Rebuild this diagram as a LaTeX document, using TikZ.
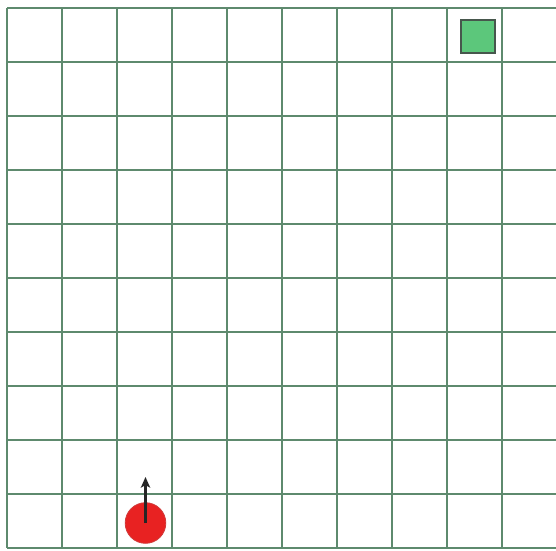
\documentclass[tikz,border=0pt]{standalone}
\usetikzlibrary{arrows.meta}
\definecolor{gridc}{HTML}{5E8A6E}
\definecolor{goalfill}{HTML}{5CC77B}
\definecolor{goaldraw}{HTML}{47574D}
\definecolor{agentfill}{HTML}{E82222}
\definecolor{agentdraw}{HTML}{D03A3A}
\tikzset{
  gridline/.style={draw=gridc, line width=1.6pt},
  goalbox/.style={rectangle, draw=goaldraw, fill=goalfill, line width=1.8pt, minimum width=25.5pt, minimum height=25pt, inner sep=0pt},
  agentdot/.style={circle, draw=agentdraw, fill=agentfill, line width=0.6pt, minimum size=30.5pt, inner sep=0pt},
  heading/.style={draw=black!85, line width=1.6pt, -{Stealth[length=8pt,width=7pt,inset=2pt]}}
}
\begin{document}
\begin{tikzpicture}[x=0.75pt, y=-0.75pt]
\useasboundingbox (0,0) rectangle (556,550);
\clip (0,0) rectangle (556,550);
\fill[white] (0,0) rectangle (556,550);
\foreach \i in {0,...,10} {
  \draw[gridline] ({7+55*\i},8) -- ({7+55*\i},548);
  \draw[gridline] (7,{8+54*\i}) -- (557,{8+54*\i});
}
\node[goalbox] (goal) at (478,36.5) {};
\node[agentdot] (agent) at (145.5,523) {};
\coordinate (head) at (145.5,477);
\draw[heading] (agent.center) -- (head);
\end{tikzpicture}
\end{document}
